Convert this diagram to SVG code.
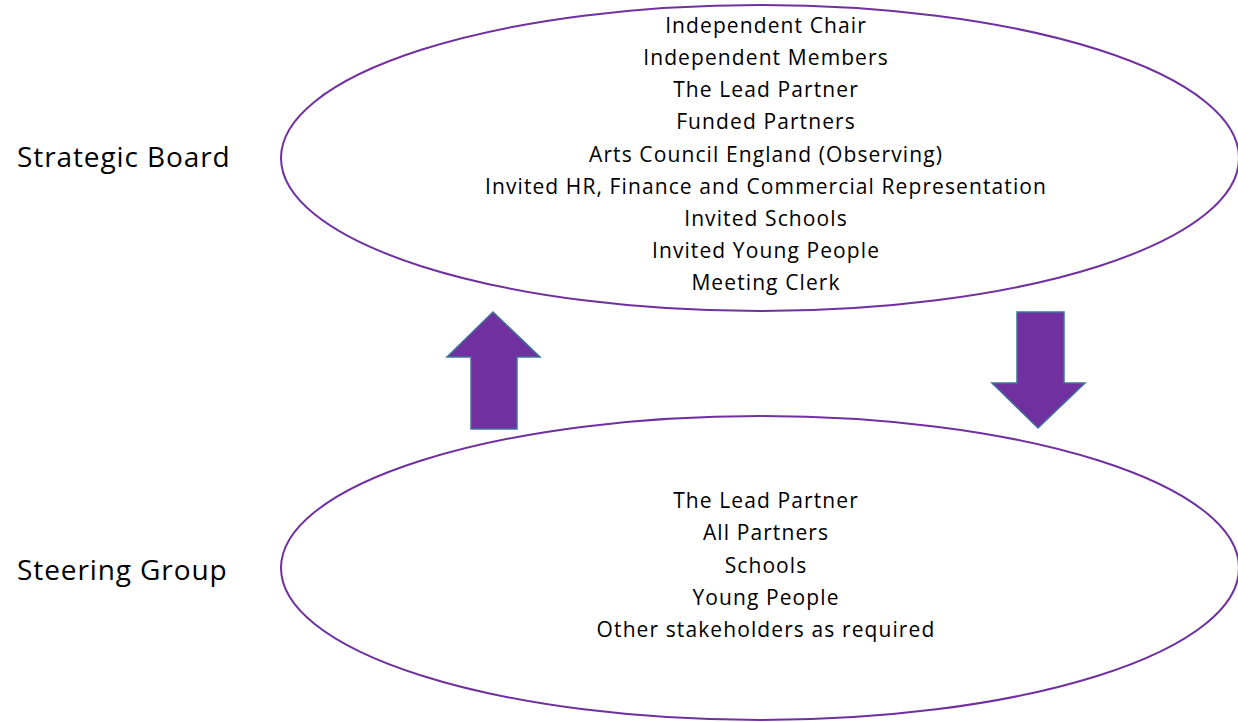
<svg xmlns="http://www.w3.org/2000/svg" width="1238" height="722" viewBox="0 0 1238 722">
  <style>
    .ring { fill: none; stroke: #7030A0; stroke-width: 2; }
    .member { font-family: "Open Sans", "Noto Sans", sans-serif; font-size: 21px; letter-spacing: 1.1px; fill: #000; text-anchor: middle; }
    .title { font-family: "Open Sans", "Noto Sans", sans-serif; font-size: 28px; letter-spacing: 0.9px; fill: #000; }
    .flow { fill: #7030A0; stroke: #41719C; stroke-width: 1.5; stroke-linejoin: miter; }
  </style>
  <rect width="1238" height="722" fill="#ffffff"/>

  <g id="strategic-board">
    <ellipse class="ring" cx="760" cy="158" rx="479" ry="153"/>
    <text class="member" x="766" y="33">Independent Chair</text>
    <text class="member" x="766" y="65">Independent Members</text>
    <text class="member" x="766" y="97">The Lead Partner</text>
    <text class="member" x="766" y="129">Funded Partners</text>
    <text class="member" x="766" y="162">Arts Council England (Observing)</text>
    <text class="member" x="766" y="194">Invited HR, Finance and Commercial Representation</text>
    <text class="member" x="766" y="226">Invited Schools</text>
    <text class="member" x="766" y="258">Invited Young People</text>
    <text class="member" x="766" y="290">Meeting Clerk</text>
  </g>

  <g id="strategic-board-label">
    <text class="title" x="17" y="167">Strategic Board</text>
  </g>

  <g id="steering-group">
    <ellipse class="ring" cx="760" cy="568" rx="479" ry="152"/>
    <text class="member" x="766" y="508">The Lead Partner</text>
    <text class="member" x="766" y="540">All Partners</text>
    <text class="member" x="766" y="573">Schools</text>
    <text class="member" x="766" y="605">Young People</text>
    <text class="member" x="766" y="637">Other stakeholders as required</text>
  </g>

  <g id="steering-group-label">
    <text class="title" x="17" y="580">Steering Group</text>
  </g>

  <g id="connectors">
    <!-- upward block arrow: steering group reports to the board -->
    <polygon class="flow" points="493,312 540,357 517,357 517,429 471,429 471,357 447,357"/>
    <!-- downward block arrow: board directs the steering group -->
    <polygon class="flow" points="1017,312 1064,312 1064,383 1085,383 1038,428 992,383 1017,383"/>
  </g>
</svg>
